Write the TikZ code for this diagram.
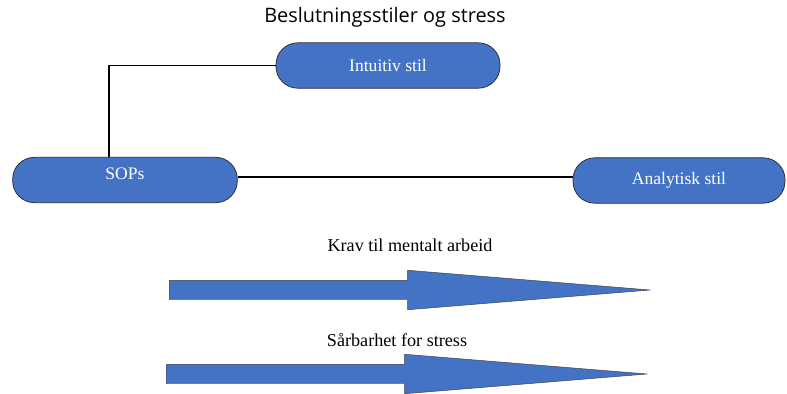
\documentclass[tikz,border=0pt]{standalone}
\usepackage{fontspec}
\setmainfont{Liberation Serif}
\newfontfamily\titlefont{Open Sans}
\usetikzlibrary{shapes.arrows}
\definecolor{boxblue}{HTML}{4472C4}

\begin{document}
\begin{tikzpicture}[x=0.03cm, y=-0.03cm,
		stilbox/.style={draw=black!85, line width=0.6pt, fill=boxblue, rounded corners=0.65cm,
			text=white, font=\fontsize{15}{18}\selectfont, minimum height=1.36cm},
		linje/.style={line width=1.2pt},
		pil/.style={single arrow, fill=boxblue, draw=black!75, line width=0.4pt,
			single arrow head extend=0.3cm, single arrow tip angle=9.3,
			inner xsep=0pt, inner ysep=0.285cm, text height=0pt, text depth=0pt,
			minimum width=1.17cm, minimum height=14.43cm, anchor=tail},
		piltekst/.style={font=\fontsize{15.5}{18}\selectfont}]
	\useasboundingbox (0,0) rectangle (787,394);
	
	\node[font=\titlefont\fontsize{17}{20}\selectfont] (tittel) at (385,17) {Beslutningsstiler og stress};
	
	\node[stilbox, minimum width=6.72cm] (intuitiv) at (388,65.5) {Intuitiv stil};
	\node[stilbox, minimum width=6.74cm, text depth=0.4cm] (sops) at (125,180) {SOPs};
	\node[stilbox, minimum width=6.36cm] (analytisk) at (679,180.5) {Analytisk stil};
	
	\draw[linje] (intuitiv.west) -| ([xshift=-0.48cm]sops.north);
	\draw[linje] ([yshift=0.09cm]sops.east) -- ([yshift=0.09cm]sops.east -| analytisk.west);
	
	\node[piltekst] (kravtekst) at (410,245) {Krav til mentalt arbeid};
	\node[pil] (krav) at (169,290) {};
	
	\node[piltekst] (saarbarhettekst) at (397,340) {Sårbarhet for stress};
	\node[pil] (saarbarhet) at (166,374) {};
\end{tikzpicture}
\end{document}
